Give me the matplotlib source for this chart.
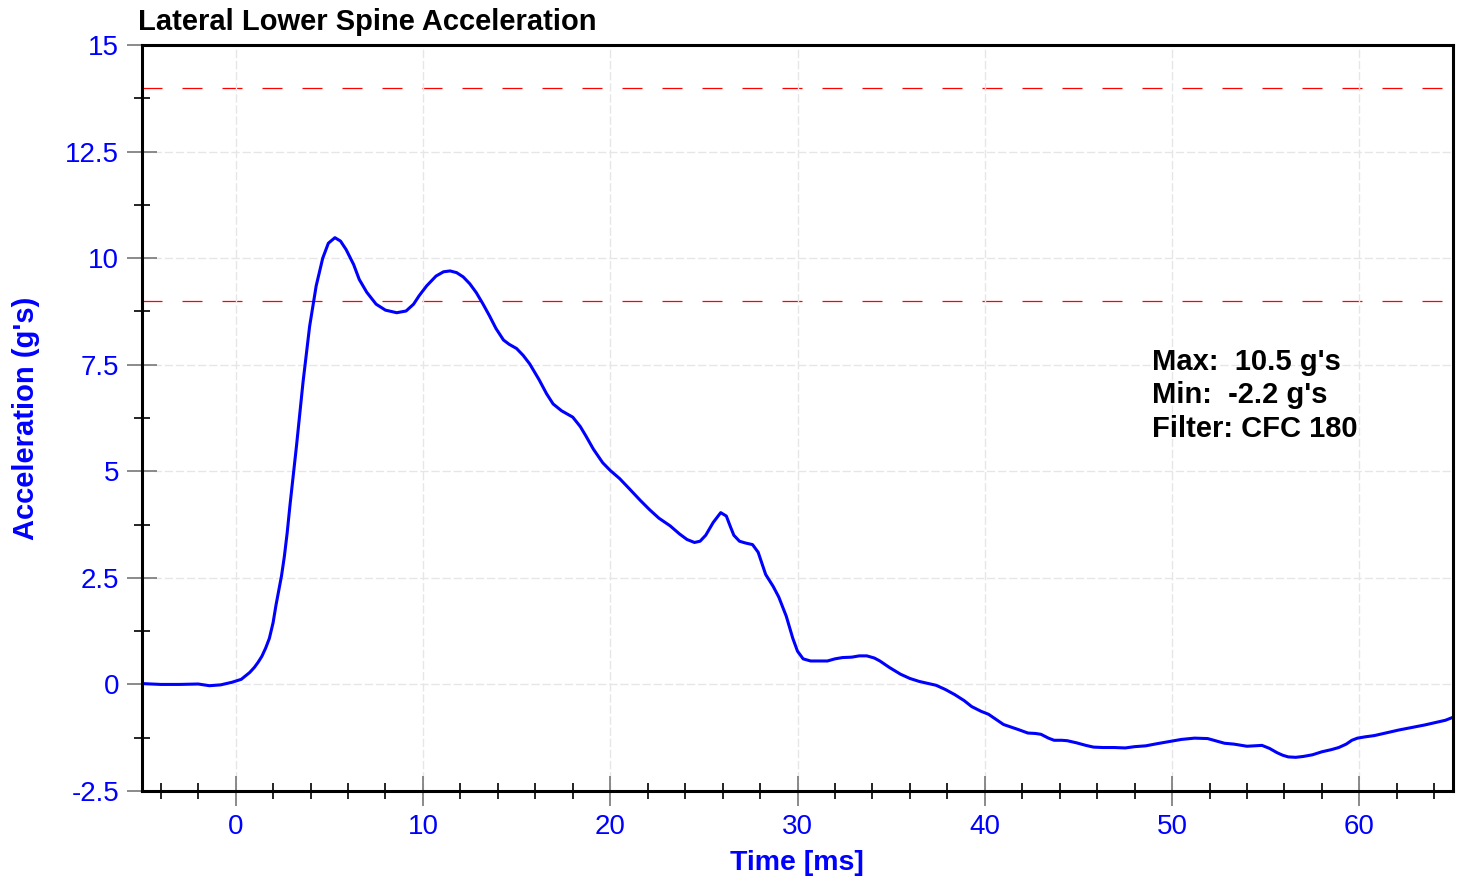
import matplotlib
matplotlib.use("Agg")
import matplotlib.pyplot as plt
from matplotlib.ticker import MultipleLocator

# time [ms] and lateral acceleration [g]
time_ms = [-5, -4, -3, -2, -1.4, -0.8, -0.2, 0.3, 0.75, 1.0, 1.2, 1.4, 1.6, 1.8, 2.0, 2.15,
           2.3, 2.45, 2.6, 2.75, 2.9, 3.25, 3.6, 3.95, 4.3, 4.65, 4.95, 5.3, 5.6, 5.9, 6.3,
           6.6, 7.0, 7.5, 8.0, 8.6, 9.1, 9.5, 9.8, 10.2, 10.7, 11.1, 11.45, 11.8, 12.15,
           12.5, 12.85, 13.2, 13.55, 13.9, 14.3, 14.6, 15.0, 15.35, 15.7, 16.2, 16.6, 16.95,
           17.4, 18.0, 18.4, 18.7, 19.1, 19.6, 20.0, 20.5, 21.0, 21.6, 22.1, 22.6, 23.2,
           23.7, 24.1, 24.5, 24.8, 25.1, 25.5, 25.9, 26.2, 26.4, 26.6, 26.9, 27.2, 27.6,
           27.9, 28.3, 28.7, 29.0, 29.4, 29.75, 30.0, 30.3, 30.7, 31.2, 31.6, 32.0, 32.4,
           32.9, 33.3, 33.7, 34.1, 34.4, 34.9, 35.5, 36.0, 36.5, 37.0, 37.4, 37.9, 38.4,
           38.9, 39.3, 39.8, 40.2, 40.6, 41.0, 41.4, 41.8, 42.3, 42.7, 43.0, 43.4, 43.7,
           44.1, 44.4, 44.9, 45.4, 45.8, 46.3, 46.9, 47.5, 48.0, 48.6, 49.2, 49.6, 50.0,
           50.5, 51.2, 51.9, 52.4, 52.8, 53.3, 54.0, 54.4, 54.8, 55.2, 55.6, 55.9, 56.2,
           56.6, 57.0, 57.5, 58.0, 58.5, 58.9, 59.3, 59.6, 59.9, 60.3, 60.8, 61.4, 62.1,
           62.8, 63.5, 64.1, 64.6, 65.0]
accel_g = [0.02, 0.0, 0.0, 0.01, -0.03, -0.01, 0.05, 0.12, 0.28, 0.4, 0.52, 0.66, 0.85, 1.08, 1.45, 1.85,
           2.2, 2.55, 3.0, 3.55, 4.2, 5.6, 7.1, 8.4, 9.35, 10.0, 10.35, 10.48, 10.4, 10.2, 9.85,
           9.5, 9.2, 8.92, 8.78, 8.72, 8.76, 8.92, 9.12, 9.35, 9.58, 9.68, 9.70, 9.66, 9.56,
           9.40, 9.19, 8.93, 8.65, 8.35, 8.08, 7.98, 7.88, 7.72, 7.52, 7.15, 6.82, 6.58,
           6.42, 6.27, 6.05, 5.83, 5.52, 5.2, 5.02, 4.83, 4.6, 4.32, 4.1, 3.9, 3.72,
           3.53, 3.40, 3.33, 3.36, 3.5, 3.8, 4.03, 3.95, 3.72, 3.5, 3.36, 3.32, 3.28,
           3.1, 2.58, 2.3, 2.05, 1.6, 1.08, 0.78, 0.6, 0.55, 0.55, 0.55, 0.6, 0.63,
           0.64, 0.67, 0.67, 0.62, 0.55, 0.4, 0.24, 0.14, 0.07, 0.02, -0.02, -0.12, -0.24,
           -0.38, -0.52, -0.63, -0.7, -0.82, -0.94, -1.0, -1.06, -1.14, -1.15, -1.17, -1.26, -1.31,
           -1.31, -1.32, -1.37, -1.43, -1.47, -1.48, -1.48, -1.49, -1.46, -1.44, -1.39, -1.36, -1.33,
           -1.29, -1.26, -1.27, -1.33, -1.38, -1.40, -1.45, -1.44, -1.43, -1.50, -1.60, -1.66, -1.70,
           -1.71, -1.69, -1.65, -1.58, -1.53, -1.48, -1.40, -1.31, -1.26, -1.23, -1.20, -1.14, -1.07,
           -1.01, -0.95, -0.89, -0.84, -0.77]

limit_lines = [14, 9]
xtick_vals = [0, 10, 20, 30, 40, 50, 60]
ytick_vals = [-2.5, 0, 2.5, 5, 7.5, 10, 12.5, 15]
ytick_labels = ["-2.5", "0", "2.5", "5", "7.5", "10", "12.5", "15"]
stats_lines = ["Max:  10.5 g's", "Min:  -2.2 g's", "Filter: CFC 180"]

plt.rcParams['font.family'] = ['Liberation Sans', 'DejaVu Sans']

W, H = 1462, 884
fig = plt.figure(figsize=(W / 100, H / 100), dpi=100)
ax = fig.add_axes([142 / W, 1 - 791 / H, (1453 - 142) / W, (791 - 45) / H])

ax.grid(which='major', color='#e6e6e6', linestyle=(0, (6, 2)), linewidth=1.0, zorder=0)
for yv in limit_lines:
    ax.axhline(yv, color='red', linewidth=0.9, dashes=(16, 16), zorder=1)
ax.plot(time_ms, accel_g, color='blue', linewidth=2.2, zorder=3,
        solid_joinstyle='round', solid_capstyle='round')

ax.set_xlim(-5, 65)
ax.set_ylim(-2.5, 15)
ax.set_xticks(xtick_vals, [str(v) for v in xtick_vals])
ax.set_yticks(ytick_vals, ytick_labels)
ax.xaxis.set_minor_locator(MultipleLocator(2))
ax.yaxis.set_minor_locator(MultipleLocator(1.25))
ax.tick_params(which='major', direction='inout', length=21, width=1.2, color='#777777',
               labelcolor='blue', labelsize=20)
ax.tick_params(axis='x', which='major', pad=6)
ax.tick_params(axis='y', which='major', pad=6)
ax.tick_params(which='minor', direction='inout', length=11.5, width=1.2, color='black')
for sp in ax.spines.values():
    sp.set_linewidth(2.2)
    sp.set_color('black')
    sp.set_zorder(4)

fig.text(138 / W, 1 - 30 / H, "Lateral Lower Spine Acceleration", fontsize=21,
         fontweight='bold', color='black', ha='left', va='baseline')
fig.text(797 / W, 1 - 870 / H, "Time [ms]", fontsize=20.5, fontweight='bold',
         color='blue', ha='center', va='baseline')
fig.text(26 / W, 1 - 418 / H, "Acceleration (g's)", fontsize=21, fontweight='bold',
         color='blue', ha='center', va='center', rotation=90)
for i, line in enumerate(stats_lines):
    fig.text(1152 / W, 1 - (370 + 33.5 * i) / H, line, fontsize=21, fontweight='bold',
             color='black', ha='left', va='baseline')

fig.savefig("out.png", dpi=100)
